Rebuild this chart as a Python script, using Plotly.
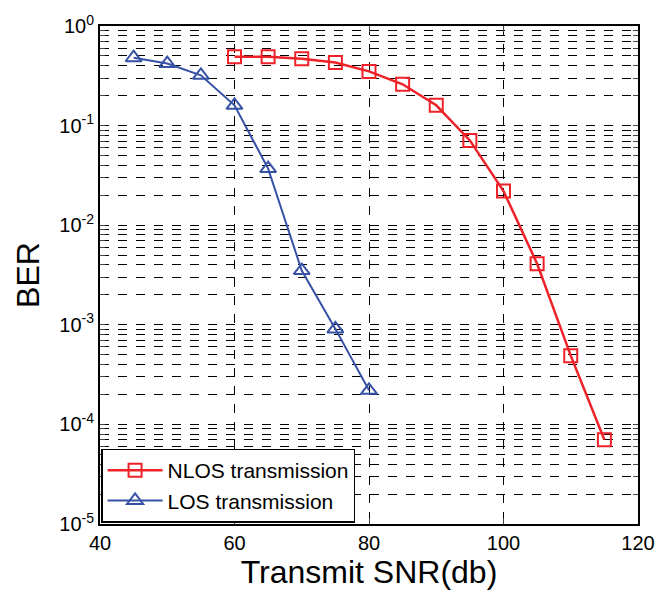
import plotly.graph_objects as go

nlos_x = [60, 65, 70, 75, 80, 85, 90, 95, 100, 105, 110, 115]
nlos_y = [0.49, 0.49, 0.47, 0.43, 0.35, 0.26, 0.16, 0.071, 0.022, 0.0041, 0.00049, 0.00007]
los_x = [45, 50, 55, 60, 65, 70, 75, 80]
los_y = [0.48, 0.42, 0.32, 0.16, 0.037, 0.0035, 0.00091, 0.00022]

x_ticks = [40, 60, 80, 100, 120]

# every log grid value (1..9 per decade)
y_vals, y_text = [], []
for e in range(-5, 1):
    for m in range(1, 10):
        if e == 0 and m > 1:
            continue
        y_vals.append(m * 10.0 ** e)
        y_text.append(f"10<sup>{e}</sup>" if m == 1 else "")

RED = "rgb(238,34,40)"
BLUE = "rgb(55,82,165)"
FONT = "Liberation Sans, Arial, sans-serif"

fig = go.Figure()
fig.add_trace(go.Scatter(
    x=nlos_x, y=nlos_y, mode="lines+markers", name="NLOS transmission",
    line=dict(color=RED, width=2.5),
    marker=dict(symbol="square-open", size=13, color=RED, line=dict(width=2))))
fig.add_trace(go.Scatter(
    x=los_x, y=los_y, mode="lines+markers", name="LOS transmission",
    line=dict(color=BLUE, width=2),
    marker=dict(symbol="triangle-up-open", size=14, color=BLUE, line=dict(width=2))))

fig.update_layout(
    width=667, height=597,
    margin=dict(l=100, r=22, t=24, b=73),
    paper_bgcolor="white", plot_bgcolor="white",
    font=dict(family=FONT, color="black", size=20),
    legend=dict(x=0.002, y=0.003, xanchor="left", yanchor="bottom",
                bgcolor="white", bordercolor="black", borderwidth=1.5,
                font=dict(size=21), itemwidth=55, tracegroupgap=2),
    xaxis=dict(range=[40, 120], tickvals=x_ticks, ticks="inside", ticklen=6,
               showline=True, linecolor="black", linewidth=2, mirror="allticks",
               showgrid=True, gridcolor="black", griddash="dash", gridwidth=1,
               zeroline=False, tickfont=dict(size=20),
               title=dict(text="Transmit SNR(db)", font=dict(size=32), standoff=2)),
    yaxis=dict(type="log", range=[-5, 0], tickvals=y_vals, ticktext=y_text,
               ticks="inside", ticklen=5,
               showline=True, linecolor="black", linewidth=2, mirror="allticks",
               showgrid=True, gridcolor="black", griddash="dash", gridwidth=1,
               zeroline=False, tickfont=dict(size=20),
               title=dict(text="BER", font=dict(size=32), standoff=10)),
)

fig.write_html("out.html")
